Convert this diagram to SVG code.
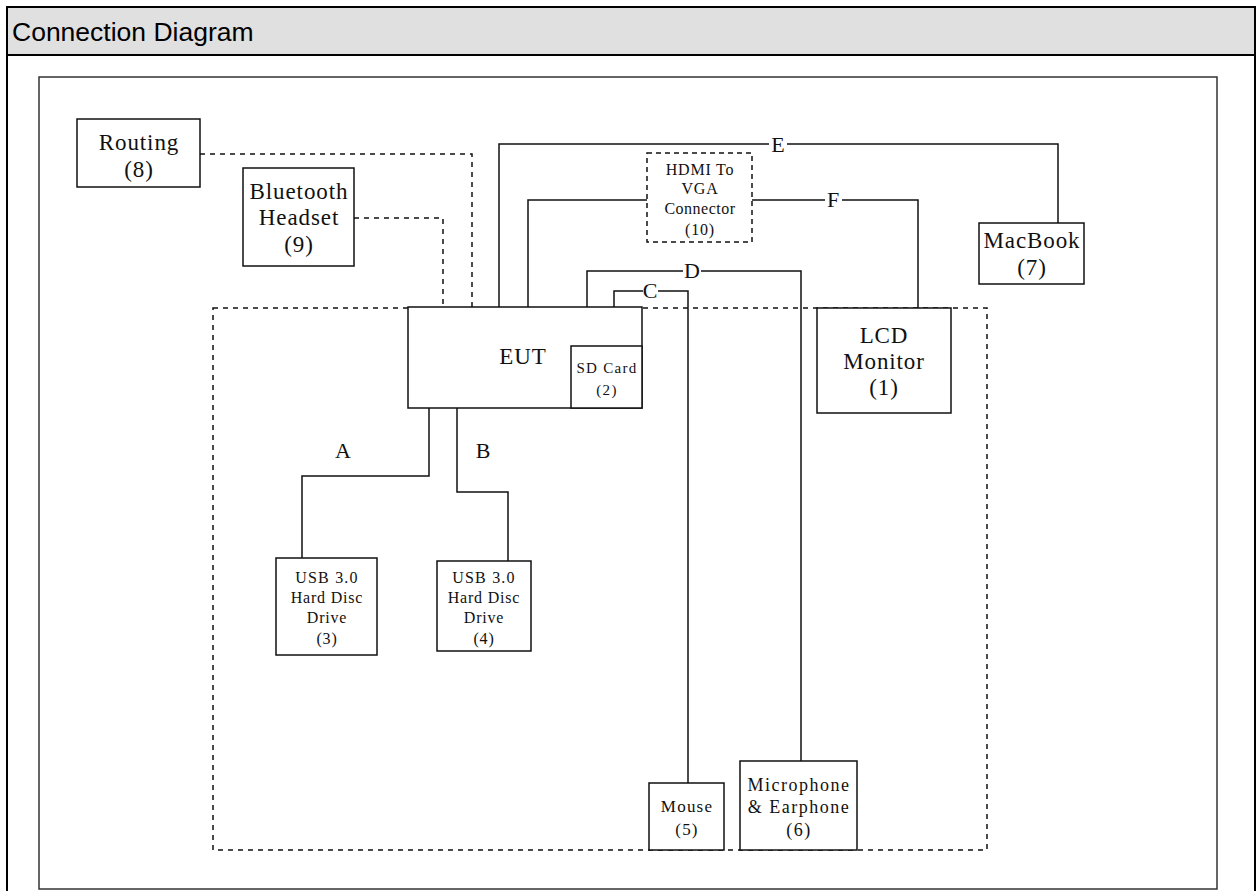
<svg xmlns="http://www.w3.org/2000/svg" width="1258" height="891" viewBox="0 0 1258 891">
<style>
.frame{fill:none;stroke:#000;stroke-width:2}
.inner{fill:none;stroke:#333;stroke-width:1.5}
.box{fill:#fff;stroke:#111;stroke-width:1.5}
.dbox{fill:#fff;stroke:#111;stroke-width:1.5;stroke-dasharray:5 4}
.ln{fill:none;stroke:#111;stroke-width:1.5}
.dl{fill:none;stroke:#111;stroke-width:1.5;stroke-dasharray:5 5}
.t{font-family:"Liberation Serif","Times New Roman",serif;fill:#111;text-anchor:middle}
.big{font-size:23px;letter-spacing:0.9px}
.lab{font-family:"Liberation Serif","Times New Roman",serif;font-size:22px;fill:#111;text-anchor:middle}
.gap{fill:#fff;stroke:none}
</style>
<rect x="0" y="0" width="1258" height="891" fill="#fff"/>
<g id="header">
<rect x="7" y="7" width="1248" height="48" fill="#e0e0e0"/>
<rect x="7" y="7" width="1248" height="890" class="frame"/>
<line x1="7" y1="55" x2="1255" y2="55" stroke="#000" stroke-width="2"/>
<text x="12" y="41" font-family="'Liberation Sans',Arial,sans-serif" font-size="26.5" fill="#000">Connection Diagram</text>
</g>
<rect id="frame" x="39" y="77" width="1178" height="812" class="inner"/>
<rect id="test-area" x="213" y="308" width="774" height="542" class="dl"/>
<g id="connectors">
<path class="dl" d="M200,154 H472 V307"/>
<path class="dl" d="M354,218 H443 V307"/>
<path class="ln" d="M499,307 V144 H1058 V223"/>
<path class="ln" d="M528,307 V200 H647"/>
<path class="ln" d="M752,200 H918 V308"/>
<path class="ln" d="M587,307 V271 H801 V761"/>
<path class="ln" d="M614,307 V291 H688 V783"/>
<path class="ln" d="M429,408 V476 H302 V558"/>
<path class="ln" d="M457,408 V492 H508 V561"/>
<rect class="gap" x="769" y="136" width="18" height="17"/>
<text class="lab" x="778" y="152">E</text>
<rect class="gap" x="825" y="191" width="17" height="17"/>
<text class="lab" x="833" y="207">F</text>
<rect class="gap" x="683" y="262" width="18" height="17"/>
<text class="lab" x="692" y="278">D</text>
<rect class="gap" x="643" y="282" width="15" height="17"/>
<text class="lab" x="650" y="298">C</text>
<text class="lab" x="343" y="458">A</text>
<text class="lab" x="483" y="458">B</text>
</g>
<g id="routing">
<rect x="77" y="119" width="123" height="68" class="box"/>
<text class="t big" x="139" y="150">Routing</text>
<text class="t big" x="139" y="177">(8)</text>
</g>
<g id="bluetooth">
<rect x="243" y="168" width="111" height="98" class="box"/>
<text class="t big" x="299" y="199">Bluetooth</text>
<text class="t big" x="299" y="225">Headset</text>
<text class="t big" x="299" y="252">(9)</text>
</g>
<g id="hdmi">
<rect x="647" y="153" width="105" height="89" class="dbox"/>
<text class="t" x="700" y="175" font-size="16" letter-spacing="0.8">HDMI To</text>
<text class="t" x="700" y="194" font-size="16" letter-spacing="0.8">VGA</text>
<text class="t" x="700" y="214" font-size="16" letter-spacing="0.5">Connector</text>
<text class="t" x="700" y="235" font-size="16" letter-spacing="0.8">(10)</text>
</g>
<g id="macbook">
<rect x="979" y="223" width="105" height="61" class="box"/>
<text class="t big" x="1032" y="248">MacBook</text>
<text class="t big" x="1032" y="275">(7)</text>
</g>
<g id="eut">
<rect x="408" y="307" width="234" height="101" class="box"/>
<text class="t big" x="523" y="364">EUT</text>
</g>
<g id="sdcard">
<rect x="571" y="346" width="71" height="62" class="box"/>
<text class="t" x="607" y="373" font-size="15" letter-spacing="1.3">SD Card</text>
<text class="t" x="607" y="395" font-size="15" letter-spacing="1.3">(2)</text>
</g>
<g id="lcd">
<rect x="817" y="308" width="134" height="105" class="box"/>
<text class="t big" x="884" y="343">LCD</text>
<text class="t big" x="884" y="369">Monitor</text>
<text class="t big" x="884" y="395">(1)</text>
</g>
<g id="usb3">
<rect x="276" y="558" width="101" height="97" class="box"/>
<text class="t" x="327" y="583" font-size="16" letter-spacing="1.2">USB 3.0</text>
<text class="t" x="327" y="603" font-size="16" letter-spacing="0.8">Hard Disc</text>
<text class="t" x="327" y="623" font-size="16" letter-spacing="0.8">Drive</text>
<text class="t" x="327" y="644" font-size="16" letter-spacing="0.8">(3)</text>
</g>
<g id="usb4">
<rect x="437" y="561" width="94" height="90" class="box"/>
<text class="t" x="484" y="583" font-size="16" letter-spacing="1.2">USB 3.0</text>
<text class="t" x="484" y="603" font-size="16" letter-spacing="0.8">Hard Disc</text>
<text class="t" x="484" y="623" font-size="16" letter-spacing="0.8">Drive</text>
<text class="t" x="484" y="644" font-size="16" letter-spacing="0.8">(4)</text>
</g>
<g id="mouse">
<rect x="649" y="783" width="75" height="67" class="box"/>
<text class="t" x="687" y="812" font-size="17" letter-spacing="1.2">Mouse</text>
<text class="t" x="687" y="835" font-size="17" letter-spacing="1.2">(5)</text>
</g>
<g id="microphone">
<rect x="740" y="761" width="117" height="89" class="box"/>
<text class="t" x="799" y="791" font-size="18" letter-spacing="1.5">Microphone</text>
<text class="t" x="799" y="813" font-size="18" letter-spacing="1.5">&amp; Earphone</text>
<text class="t" x="799" y="836" font-size="18" letter-spacing="1.5">(6)</text>
</g>
</svg>
